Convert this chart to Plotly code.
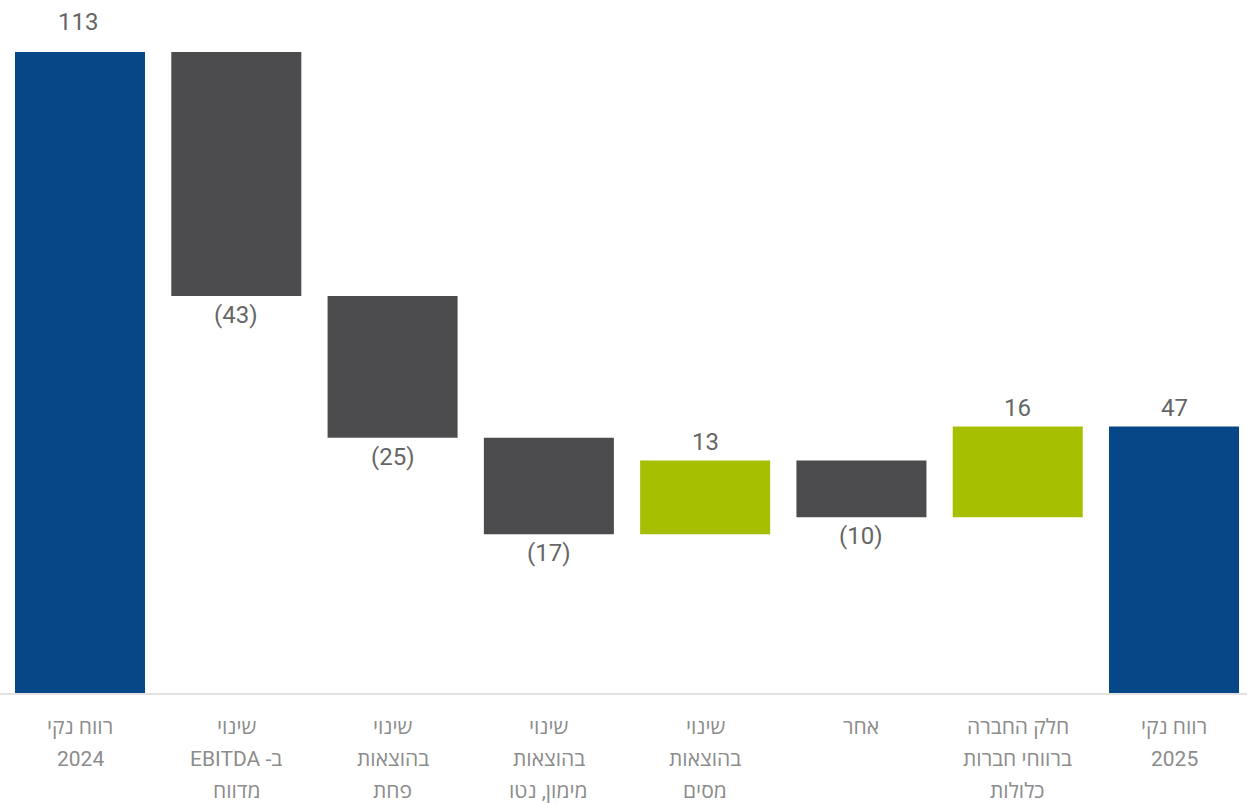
import plotly.graph_objects as go

categories = ["רווח נקי 2024", "שינוי ב- EBITDA מדווח", "שינוי בהוצאות פחת",
              "שינוי בהוצאות מימון, נטו", "שינוי בהוצאות מסים", "אחר",
              "חלק החברה ברווחי חברות כלולות", "רווח נקי 2025"]
label_lines = [
    ["רווח נקי", "2024"],
    ["שינוי", "EBITDA -ב", "מדווח"],
    ["שינוי", "בהוצאות", "פחת"],
    ["שינוי", "בהוצאות", "מימון, נטו"],
    ["שינוי", "בהוצאות", "מסים"],
    ["אחר"],
    ["חלק החברה", "ברווחי חברות", "כלולות"],
    ["רווח נקי", "2025"],
]
values = [113, -43, -25, -17, 13, -10, 16, 47]
measures = ["absolute", "relative", "relative", "relative", "relative", "relative", "relative", "total"]

texts = [f"({abs(v)})" if v < 0 else f"{v}" for v in values]
xs = list(range(len(categories)))

BLUE = "#064787"
GRAY = "#4c4c4e"
GREEN = "#a6bf00"
FONT = "Roboto, 'Open Sans', sans-serif"

fig = go.Figure(go.Waterfall(
    x=xs,
    y=values,
    measure=measures,
    increasing=dict(marker=dict(color=GREEN)),
    decreasing=dict(marker=dict(color=GRAY)),
    totals=dict(marker=dict(color=BLUE)),
    connector=dict(visible=False),
    hoverinfo="skip",
))

annotations = []
# value labels at the end of each bar
running = 0
for i, (v, m, t) in enumerate(zip(values, measures, texts)):
    if m == "absolute":
        start, end = 0, v
        running = v
    elif m == "total":
        start, end = 0, running
    else:
        start, end = running, running + v
        running = end
    if v >= 0:
        ypos = max(start, end)
        shift = 30 if i == 0 else 18
    else:
        ypos = min(start, end)
        shift = -19
    annotations.append(dict(
        x=i, y=ypos, xref="x", yref="y", text=t, showarrow=False,
        xanchor="center", yanchor="middle", yshift=shift,
        xshift=-2 if i == 0 else 0,
        font=dict(family=FONT, size=24, color="#666666"),
    ))

# category labels
for i, lines in enumerate(label_lines):
    for j, line in enumerate(lines):
        annotations.append(dict(
            x=i, y=0, xref="x", yref="paper",
            text=line, showarrow=False,
            xanchor="center", yanchor="middle",
            yshift=-(34 + 32 * j),
            font=dict(family=FONT, size=21, color="#8c8c8c"),
        ))

fig.update_layout(
    width=1247, height=803,
    margin=dict(l=0, r=0, t=0, b=110),
    paper_bgcolor="white", plot_bgcolor="white",
    showlegend=False,
    waterfallgap=0.168,
    xaxis=dict(range=[-0.512, 7.467], showticklabels=False, ticks="",
               showgrid=False, zeroline=False, showline=True,
               linecolor="#e2e2e2", linewidth=2, fixedrange=True),
    yaxis=dict(range=[0, 122.17], visible=False, showgrid=False, zeroline=False),
    annotations=annotations,
    font=dict(family=FONT),
)

fig.write_html("out.html")
